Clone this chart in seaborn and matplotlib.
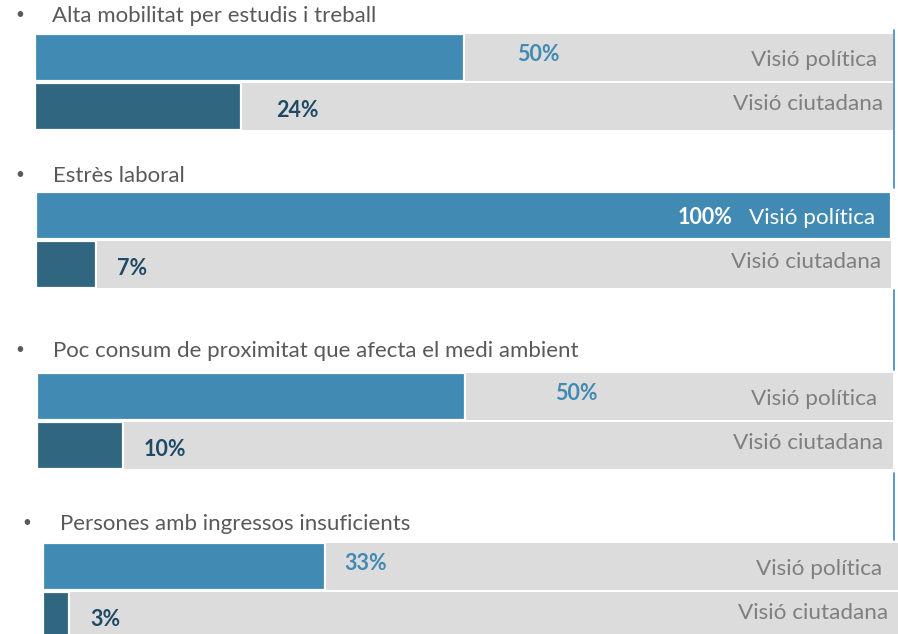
import matplotlib
matplotlib.use("Agg")
import matplotlib.pyplot as plt
from matplotlib.lines import Line2D
import pandas as pd
import seaborn as sns

# Problems and the share of mentions in each vision (%)
problems = [
    "Alta mobilitat per estudis i treball",
    "Estrès laboral",
    "Poc consum de proximitat que afecta el medi ambient",
    "Persones amb ingressos insuficients",
]
visions = ["Visió política", "Visió ciutadana"]
politica = [50, 100, 50, 33]
ciutadana = [24, 7, 10, 3]

BLUE = "#418AB3"
DARK = "#30667F"
GREY = "#DCDCDC"
LABEL_GREY = "#7F7F7F"
TITLE_GREY = "#595959"
DARK_TXT = "#1F4A66"

W, H = 898, 634

sns.set_theme(style="white")
plt.rcParams["font.family"] = ["Lato", "DejaVu Sans"]

fig = plt.figure(figsize=(W / 100, H / 100), dpi=100)


def fig_box(x0, y0, x1, y1):
    return [x0 / W, 1 - y1 / H, (x1 - x0) / W, (y1 - y0) / H]


# pixel frames of each panel: (left, top, right, bottom), title anchor (bullet x, text x, y)
panels = [
    ((35, 32.5, 893, 131.5), (20, 52, 15)),
    ((36, 190.5, 891, 289.5), (20, 53, 175)),
    ((37, 371.5, 893, 470.5), (20, 53, 350)),
    ((43, 541.5, 898, 640.5), (27, 60, 523)),
]
# distance (in % units) between a bar end and its value label
gap_pol = [6.2, None, 10.5, 2.3]
gap_ciu = [4.1, 2.5, 2.5, 2.5]

for i, (frame, (bx, tx, ty)) in enumerate(panels):
    ax = fig.add_axes(fig_box(*frame))
    bg = pd.DataFrame({"visio": visions, "total": [100, 100]})
    df = pd.DataFrame({"visio": visions, "valor": [politica[i], ciutadana[i]]})
    sns.barplot(data=bg, x="total", y="visio", color=GREY, width=0.94,
                ax=ax, saturation=1, edgecolor="none")
    sns.barplot(data=df, x="valor", y="visio", hue="visio",
                palette=[BLUE, DARK], width=0.94, ax=ax, legend=False,
                saturation=1, edgecolor="white", linewidth=1.6)
    ax.set_xlim(0, 100)
    ax.set_ylim(1.5, -0.5)
    ax.axis("off")

    # value labels
    p, c = politica[i], ciutadana[i]
    if p >= 100:
        ax.text(81.5, 0.05, f"{p}%", ha="right", va="center", color="white",
                fontsize=15.5, fontweight="bold")
        pol_color = "white"
    else:
        ax.text(p + gap_pol[i], -0.05, f"{p}%", ha="left", va="center",
                color=BLUE, fontsize=15.5, fontweight="bold")
        pol_color = LABEL_GREY
    ax.text(c + gap_ciu[i], 1.08, f"{c}%", ha="left", va="center",
            color=DARK_TXT, fontsize=15.5, fontweight="bold")

    # series labels at the right end
    ax.text(98.1, 0.05, visions[0], ha="right", va="center",
            color=pol_color, fontsize=16.2)
    ax.text(98.8, 0.95, visions[1], ha="right", va="center",
            color=LABEL_GREY, fontsize=16.2)

    # bullet title
    fig.text(bx / W, 1 - ty / H, "•", ha="center", va="center",
             color=TITLE_GREY, fontsize=11)
    fig.text(tx / W, 1 - (ty + 1) / H, problems[i], ha="left", va="center",
             color=TITLE_GREY, fontsize=16)

# thin frame segments on the right edge
for y0, y1 in [(30, 188), (290, 370), (473, 540)]:
    fig.add_artist(Line2D([894 / W, 894 / W], [1 - y0 / H, 1 - y1 / H],
                          color="#3D86BC", linewidth=1.2))

fig.savefig("out.png", dpi=100)
